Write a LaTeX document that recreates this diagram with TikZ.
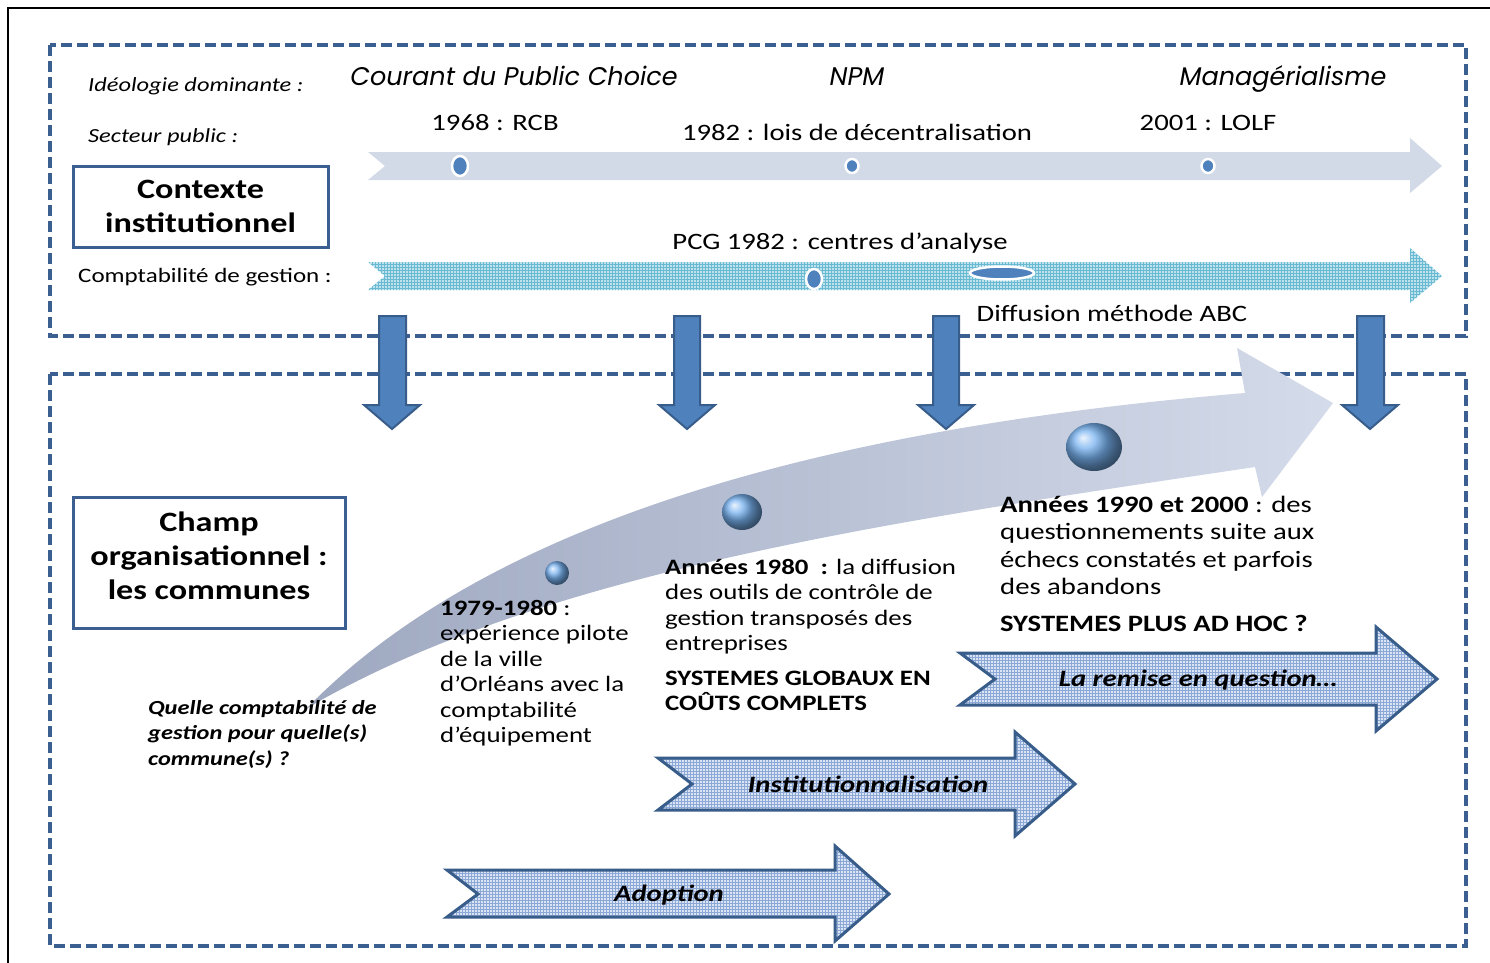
\documentclass[tikz,border=0pt]{standalone}
\usepackage{fontspec}
\setmainfont{Carlito}[FakeStretch=1.22]
\newfontfamily\hd{Poppins}
\usetikzlibrary{calc}
\usetikzlibrary{patterns}
\definecolor{fr1}{RGB}{59,95,145}
\definecolor{bl1}{RGB}{79,129,189}
\definecolor{bl2}{RGB}{56,93,138}
\definecolor{bl3}{RGB}{120,178,240}
\definecolor{bg1}{RGB}{210,218,232}
\definecolor{bg2}{RGB}{190,227,237}
\definecolor{l2}{RGB}{105,185,210}
\definecolor{bg3}{RGB}{218,228,243}
\definecolor{l3}{RGB}{140,168,214}
\definecolor{cv1}{RGB}{158,168,192}
\definecolor{cv2}{RGB}{212,219,234}

\begin{document}
\begin{tikzpicture}[
    x=1pt, y=-1pt,
    fr/.style={
        draw=fr1, line width=3.3pt,
        dash pattern=on 11pt off 5pt
    },
    bx/.style={
        draw=fr1, line width=3pt, align=center, inner sep=0pt,
        font={\fontsize{28}{34}\selectfont\bfseries}
    },
    h/.style={font={\hd\itshape\fontsize{25.5}{28}\selectfont}, inner sep=0pt, anchor=base},
    lb/.style={font={\itshape\fontsize{20}{24}\selectfont}, inner sep=0pt},
    t20/.style={font={\fontsize{20.5}{24}\selectfont}, inner sep=0pt},
    t22/.style={font={\fontsize{22}{25.5}\selectfont}, inner sep=0pt, align=left},
    t23/.style={font={\fontsize{23.5}{27.3}\selectfont}, inner sep=0pt, align=left},
    q/.style={font={\fontsize{20}{25.5}\selectfont\bfseries\itshape}, inner sep=0pt, align=left},
    ar/.style={font={\fontsize{23.5}{28}\selectfont\bfseries\itshape}, inner sep=0pt},
    pt/.style={fill=bl1, draw=white, line width=2.5pt},
    da/.style={fill=bl1, draw=bl2, line width=2pt},
    ba/.style={preaction={fill=bg3}, pattern=grid, pattern color=l3, draw=bl2, line width=3pt}
]

    \useasboundingbox (0,0) rectangle (1490,963);
    \fill [white] (0,0) rectangle (1490,963);
    \draw [line width=2pt] (8,963) -- (8,8) -- (1490,8);

    % the two frames
    \draw [fr] (50,45) rectangle (1466,336);
    \draw [fr] (50,374) rectangle (1466,946);

    % contexte institutionnel
    \node [lb, anchor=west] (ideo) at (88,86)  {Idéologie dominante :};
    \node [lb, anchor=west] (sect) at (88,137) {Secteur public :};
    \node [t20, anchor=west] (comp) at (78,277) {Comptabilité de gestion :};
    \node [bx, minimum width=255, minimum height=81] (ctx) at (200.5,206.5) {Contexte\\institutionnel};

    \node [h] (pc)  at ( 514,86) {Courant du Public Choice};
    \node [h] (npm) at ( 857,86) {NPM};
    \node [h] (mgr) at (1283,86) {Managérialisme};

    \fill [bg1] (368,152) -- (1410,152) -- (1410,138) -- (1442,166)
        -- (1410,193) -- (1410,180) -- (368,180) -- (385,166) -- cycle;
    \fill [bg2] (368,262) -- (1410,262) -- (1410,248) -- (1442,276)
        -- (1410,303) -- (1410,290) -- (368,290) -- (385,276) -- cycle;
    \fill [pattern=grid, pattern color=l2] (368,262) -- (1410,262) -- (1410,248) -- (1442,276)
        -- (1410,303) -- (1410,290) -- (368,290) -- (385,276) -- cycle;

    \draw [pt] (460,166) ellipse (8 and 10);
    \draw [pt] (852,166) ellipse (6.5 and 7);
    \draw [pt] (1208,166) ellipse (6.5 and 7);
    \draw [pt] (814,279) ellipse (8 and 10);
    \draw [pt] (1002,273) ellipse (32 and 6.5);

    \node [t23] (rcb)  at ( 495,123) {1968 : RCB};
    \node [t23] (loi)  at ( 857,132) {1982 : lois de décentralisation};
    \node [t23] (lolf) at (1208,123) {2001 : LOLF};
    \node [t23] (pcg)  at ( 840,243) {PCG 1982 : centres d’analyse};
    \node [t23] (abc)  at (1112,313) {Diffusion méthode ABC};

    % champ organisationnel
    \node [bx, minimum width=272, minimum height=131] (chp) at (209,562.5)
        {Champ\\organisationnel :\\les communes\rule[-14pt]{0pt}{14pt}};

    \shade [left color=cv1, right color=cv2]
        (306,709) .. controls (480,530) and (800,430) .. (1245,393)
        -- (1237,348) -- (1333,403) -- (1262,497) -- (1255,467)
        .. controls (900,520) and (550,570) .. (316,703) -- cycle;

    \shade [ball color=bl3] (557,573) ellipse (12 and 12);
    \shade [ball color=bl3] (742,512) ellipse (20 and 18);
    \shade [ball color=bl3] (1094,447) ellipse (28 and 24);

    \draw [da] (379,316) -- (406,316) -- (406,405) -- (420,405) -- (392,429) -- (364,405) -- (379,405) -- cycle;
    \draw [da] (674,316) -- (700,316) -- (700,405) -- (715,405) -- (687,429) -- (659,405) -- (674,405) -- cycle;
    \draw [da] (933,316) -- (959,316) -- (959,405) -- (974,405) -- (946,429) -- (918,405) -- (933,405) -- cycle;
    \draw [da] (1357,316) -- (1384,316) -- (1384,405) -- (1398,405) -- (1370,429) -- (1342,405) -- (1357,405) -- cycle;

    \node [t22, anchor=north west] (a79) at (440,600)
        {\textbf{1979-1980} :\\expérience pilote\\de la ville\\d’Orléans avec la\\comptabilité\\d’équipement};
    \node [t22, anchor=north west] (a80) at (665,559)
        {\textbf{Années 1980\ \ :} la diffusion\\des outils de contrôle de\\gestion transposés des\\entreprises\\[9pt]
         \textbf{SYSTEMES GLOBAUX EN}\\\textbf{COÛTS COMPLETS}};
    \node [t23, anchor=north west] (a90) at (1000,496)
        {\textbf{Années 1990 et 2000} : des\\questionnements suite aux\\échecs constatés et parfois\\des abandons\\[10pt]
         \textbf{SYSTEMES PLUS AD HOC ?}};
    \node [q, anchor=north west] (quel) at (148,700)
        {Quelle comptabilité de\\gestion pour quelle(s)\\commune(s) ?};

    % phases
    \draw [ba] (960,653) -- (1376,653) -- (1376,627) -- (1437,679)
        -- (1376,731) -- (1376,705) -- (960,705) -- (995,679) -- cycle;
    \draw [ba] (658,758) -- (1015,758) -- (1015,732) -- (1075,784)
        -- (1015,836) -- (1015,810) -- (658,810) -- (692,784) -- cycle;
    \draw [ba] (447,870) -- (835,870) -- (835,846) -- (889,894)
        -- (835,941) -- (835,917) -- (447,917) -- (478,894) -- cycle;

    \node [ar] (rem) at (1198,680) {La remise en question…};
    \node [ar] (ins) at ( 868,784) {Institutionnalisation};
    \node [ar] (ado) at ( 669,895) {Adoption};

\end{tikzpicture}
\end{document}
